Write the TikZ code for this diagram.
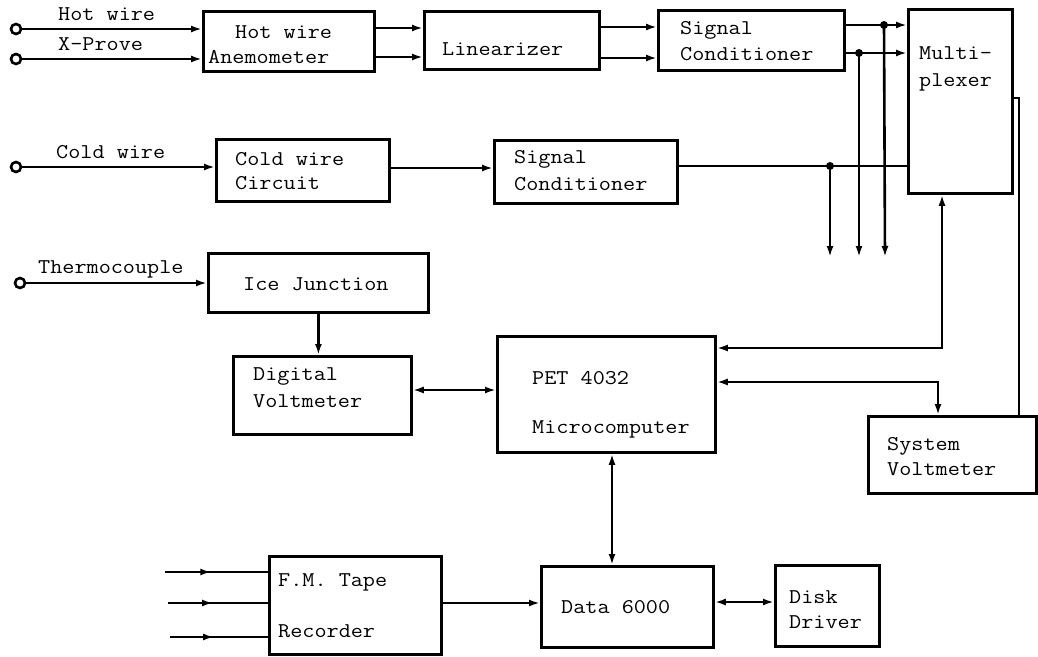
\documentclass[tikz,border=0pt]{standalone}
\usepackage{fontspec}
\newfontfamily\cour[FakeStretch=1.12]{Latin Modern Mono}
\usetikzlibrary{arrows.meta,decorations.markings,calc}

\begin{document}
\begin{tikzpicture}[x=1pt,y=-1pt,
  box/.style={draw,line width=2.8pt,inner sep=0pt,anchor=north west},
  lbl/.style={anchor=base west,inner sep=0pt,font=\cour\fontsize{21}{24}\selectfont},
  wire/.style={line width=2.6pt},
  tip/.style={-{Latex[length=11pt,width=7pt]}},
  both/.style={{Latex[length=11pt,width=7pt]}-{Latex[length=11pt,width=7pt]}},
  midtip/.style={postaction={decorate},decoration={markings,
      mark=at position 0.45 with {\arrow{Latex[length=11pt,width=7pt]}}}},
  term/.style={circle,draw,line width=2.6pt,minimum size=10pt,inner sep=0pt,fill=white},
  jdot/.style={circle,fill,minimum size=8pt,inner sep=0pt}]
\useasboundingbox (0,0) rectangle (1038,656);

% ---- blocks ----
\node[box,minimum width=171pt,minimum height=60pt]  (hwa)  at (202,10)  {};
\node[box,minimum width=175pt,minimum height=58pt]  (lin)  at (423,10)  {};
\node[box,minimum width=186pt,minimum height=60pt]  (sc1)  at (657,9)   {};
\node[box,minimum width=104pt,minimum height=184pt] (mux)  at (907,8)   {};
\node[box,minimum width=173pt,minimum height=62pt]  (cwc)  at (215,138) {};
\node[box,minimum width=183pt,minimum height=63pt]  (sc2)  at (493,139) {};
\node[box,minimum width=220pt,minimum height=59pt]  (ice)  at (207,252) {};
\node[box,minimum width=178pt,minimum height=78pt]  (dvm)  at (232,355) {};
\node[box,minimum width=218pt,minimum height=116pt] (pet)  at (496,335) {};
\node[box,minimum width=168pt,minimum height=77pt]  (sv)   at (867,415) {};
\node[box,minimum width=172pt,minimum height=98pt]  (fm)   at (268,555) {};
\node[box,minimum width=172pt,minimum height=81pt]  (data) at (540,565) {};
\node[box,minimum width=104pt,minimum height=81pt]  (disk) at (774,564) {};

% ---- block texts ----
\node[lbl] (t-hwa1) at (235,38)  {Hot wire};
\node[lbl] (t-hwa2) at (208,63)  {Anemometer};
\node[lbl] (t-lin)  at (442,55)  {Linearizer};
\node[lbl] (t-sc11) at (680,34)  {Signal};
\node[lbl] (t-sc12) at (680,60)  {Conditioner};
\node[lbl] (t-mux1) at (919,59)  {Multi-};
\node[lbl] (t-mux2) at (919,86)  {plexer};
\node[lbl] (t-cwc1) at (235,165) {Cold wire};
\node[lbl] (t-cwc2) at (235,189) {Circuit};
\node[lbl] (t-sc21) at (514,163) {Signal};
\node[lbl] (t-sc22) at (514,190) {Conditioner};
\node[lbl] (t-ice)  at (243,290) {Ice Junction};
\node[lbl] (t-dvm1) at (253,380) {Digital};
\node[lbl] (t-dvm2) at (253,407) {Voltmeter};
\node[lbl] (t-pet1) at (532,384) {PET 4032};
\node[lbl] (t-pet2) at (532,433) {Microcomputer};
\node[lbl] (t-sv1)  at (887,450) {System};
\node[lbl] (t-sv2)  at (887,475) {Voltmeter};
\node[lbl] (t-fm1)  at (278,586) {F.M. Tape};
\node[lbl] (t-fm2)  at (278,637) {Recorder};
\node[lbl] (t-data) at (561,613) {Data 6000};
\node[lbl] (t-dsk1) at (789,603) {Disk};
\node[lbl] (t-dsk2) at (789,628) {Driver};

% ---- input terminals and their names ----
\node[term] (hw) at (16,29)  {};
\node[term] (xp) at (16,59)  {};
\node[term] (cw) at (16,167) {};
\node[term] (th) at (20,283) {};
\node[lbl] (t-hw) at (58,20)  {Hot wire};
\node[lbl] (t-xp) at (58,50)  {X-Prove};
\node[lbl] (t-cw) at (56,158) {Cold wire};
\node[lbl] (t-th) at (38,273) {Thermocouple};

% ---- hot wire chain ----
\draw[wire,tip] (hw) -- (hw -| hwa.west);
\draw[wire,tip] (xp) -- (xp -| hwa.west);
\draw[wire,tip] ($(hwa.north east)+(0,18)$) -- ($(lin.north west)+(0,18)$);
\draw[wire,tip] ($(hwa.north east)+(0,47)$) -- ($(lin.north west)+(0,47)$);
\draw[wire,tip] ($(lin.north east)+(0,17)$) -- ($(sc1.north west)+(0,18)$);
\draw[wire,tip] ($(lin.north east)+(0,48)$) -- ($(sc1.north west)+(0,49)$);
\draw[wire,tip] ($(sc1.north east)+(0,16)$) -- ($(mux.north west)+(0,17)$);
\draw[wire,tip] ($(sc1.north east)+(0,44)$) -- ($(mux.north west)+(0,45)$);

% ---- cold wire chain ----
\draw[wire,tip] (cw) -- (cw -| cwc.west);
\draw[wire,tip] ($(cwc.north west)+(173,30)$) -- ($(sc2.north west)+(0,29)$);
\draw[wire] ($(sc2.north east)+(0,27)$) -- ($(mux.north west)+(0,158)$);

% ---- branch points and analogue outputs ----
\node[jdot] (j1) at (884,25)  {};
\node[jdot] (j2) at (859,53)  {};
\node[jdot] (j3) at (830,166) {};
\coordinate (o1) at (885,257);
\coordinate (o2) at (859,257);
\coordinate (o3) at (830,257);
\draw[wire,tip] (j1.center) -- (o1);
\draw[wire,tip] (j2.center) -- (o2);
\draw[wire,tip] (j3.center) -- (o3);

% ---- thermocouple chain ----
\draw[wire,tip] (th) -- (th -| ice.west);
\draw[wire,tip] (ice.south) -- (ice.south |- dvm.north);
\draw[wire,both] ($(dvm.north east)+(0,35)$) -- ($(pet.north west)+(0,55)$);

% ---- computer links ----
\draw[wire,both] ($(pet.north east)+(0,13)$) -| ($(mux.south west)+(35,0)$);
\draw[wire,both] ($(pet.north east)+(0,47)$) -| ($(sv.north west)+(71,0)$);
\draw[wire] ($(mux.north east)+(0,90)$) -| ($(sv.north west)+(152,0)$);
\draw[wire,both] ($(pet.south west)+(116,0)$) -- ($(data.north west)+(72,0)$);

% ---- recorder and storage ----
\coordinate (i1) at (165,572);
\coordinate (i2) at (168,603);
\coordinate (i3) at (170,637);
\draw[wire,midtip] (i1) -- (i1 -| fm.west);
\draw[wire,midtip] (i2) -- (i2 -| fm.west);
\draw[wire,midtip] (i3) -- (i3 -| fm.west);
\draw[wire,tip] ($(fm.north east)+(0,48)$) -- ($(data.north west)+(0,38)$);
\draw[wire,both] ($(data.north east)+(0,37)$) -- ($(disk.north west)+(0,38)$);
\end{tikzpicture}
\end{document}
